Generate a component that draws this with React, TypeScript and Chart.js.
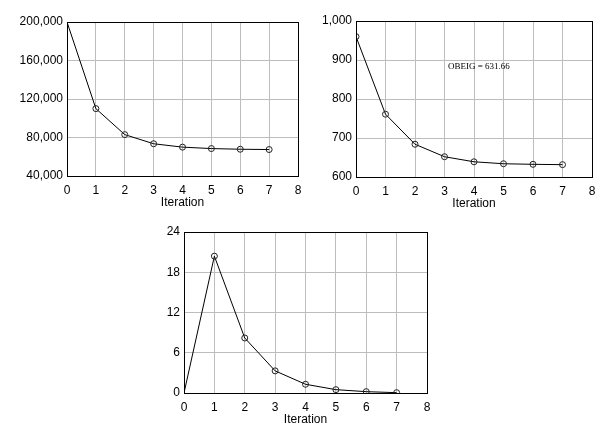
import React, { useEffect, useRef } from "react";
import { Chart, registerables } from "chart.js";

Chart.register(...registerables);

const iterations = [0, 1, 2, 3, 4, 5, 6, 7];
const objectiveValues = [200000, 110000, 83000, 73500, 70000, 68500, 67800, 67500];
const eigenValues = [960, 761, 684, 652, 639, 634, 632.5, 631.66];
const changeValues = [0, 20.4, 8.2, 3.3, 1.3, 0.5, 0.2, 0.05];
const xLabel = "Iteration";
const eigNote = "OBEIG = 631.66";

const FONT = { family: "'Liberation Sans', Arial, sans-serif", size: 12 };

const boxPlugin = {
  id: "box",
  afterDraw(chart: any, _args: any, opts: any) {
    const { ctx, chartArea: a } = chart;
    ctx.save();
    if (opts && opts.text) {
      const xs = chart.scales.x;
      const ys = chart.scales.y;
      ctx.fillStyle = "#000";
      ctx.font = "9px 'Liberation Serif', 'Times New Roman', serif";
      ctx.textBaseline = "middle";
      ctx.textAlign = "left";
      ctx.fillText(opts.text, xs.getPixelForValue(opts.x), ys.getPixelForValue(opts.y));
    }
    ctx.strokeStyle = "#000";
    ctx.lineWidth = 1;
    const l = Math.round(a.left) + 0.5;
    const t = Math.round(a.top) + 0.5;
    ctx.strokeRect(l, t, Math.round(a.right) - Math.round(a.left), Math.round(a.bottom) - Math.round(a.top));
    ctx.restore();
  },
};

type PanelProps = {
  left: number;
  top: number;
  width: number;
  height: number;
  values: number[];
  yMin: number;
  yMax: number;
  yStep: number;
  yWidth: number;
  padTop: number;
  padRight: number;
  padBottom: number;
  hideFirst: boolean;
  note?: { text: string; x: number; y: number };
};

function Panel(p: PanelProps) {
  const ref = useRef<HTMLCanvasElement | null>(null);
  useEffect(() => {
    if (!ref.current) return;
    const chart = new Chart(ref.current, {
      type: "line",
      data: {
        datasets: [
          {
            data: iterations.map((x, i) => ({ x, y: p.values[i] })),
            borderColor: "#000",
            borderWidth: 1,
            pointRadius: (c: any) => (p.hideFirst && c.dataIndex === 0 ? 0 : 3),
            pointBorderColor: "#222",
            pointBorderWidth: 1,
            pointBackgroundColor: "rgba(0,0,0,0)",
            fill: false,
            tension: 0,
          },
        ],
      },
      options: {
        animation: false,
        responsive: false,
        devicePixelRatio: 1,
        layout: { padding: { left: 0, top: p.padTop, right: p.padRight, bottom: p.padBottom } },
        plugins: {
          legend: { display: false },
          tooltip: { enabled: false },
          box: p.note ? p.note : {},
        } as any,
        scales: {
          x: {
            type: "linear",
            min: 0,
            max: 8,
            ticks: { stepSize: 1, padding: 7, color: "#000", font: FONT, autoSkip: false, maxRotation: 0 },
            grid: { color: "#bdbdbd", drawTicks: false },
            border: { color: "#000" },
            title: { display: true, text: xLabel, color: "#000", font: FONT, padding: { top: 0, bottom: 3 } },
            afterFit: (s: any) => {
              s.height = 37;
            },
          },
          y: {
            type: "linear",
            min: p.yMin,
            max: p.yMax,
            ticks: {
              stepSize: p.yStep,
              padding: 4,
              color: "#000",
              font: FONT,
              callback: (v: any) => Number(v).toLocaleString("en-US"),
            },
            grid: { color: "#bdbdbd", drawTicks: false },
            border: { color: "#000" },
            afterFit: (s: any) => {
              s.width = p.yWidth;
            },
          },
        } as any,
      },
      plugins: [boxPlugin as any],
    });
    return () => chart.destroy();
  }, []);
  return (
    <div style={{ position: "absolute", left: p.left, top: p.top, width: p.width, height: p.height }}>
      <canvas ref={ref} width={p.width} height={p.height} style={{ display: "block" }} />
    </div>
  );
}

export default function App() {
  return (
    <div style={{ position: "absolute", left: 0, top: 0, width: 616, height: 429, background: "#fff", overflow: "hidden" }}>
      <Panel left={0} top={0} width={310} height={215} values={objectiveValues} yMin={40000} yMax={200000} yStep={40000}
        yWidth={67} padTop={22} padRight={12} padBottom={2} hideFirst={true} />
      <Panel left={300} top={0} width={316} height={215} values={eigenValues} yMin={600} yMax={1000} yStep={100}
        yWidth={56} padTop={21} padRight={24} padBottom={1} hideFirst={false} note={{ text: eigNote, x: 3.12, y: 882 }} />
      <Panel left={130} top={220} width={320} height={210} values={changeValues} yMin={0} yMax={24} yStep={6}
        yWidth={54} padTop={12} padRight={23} padBottom={0} hideFirst={true} />
    </div>
  );
}
